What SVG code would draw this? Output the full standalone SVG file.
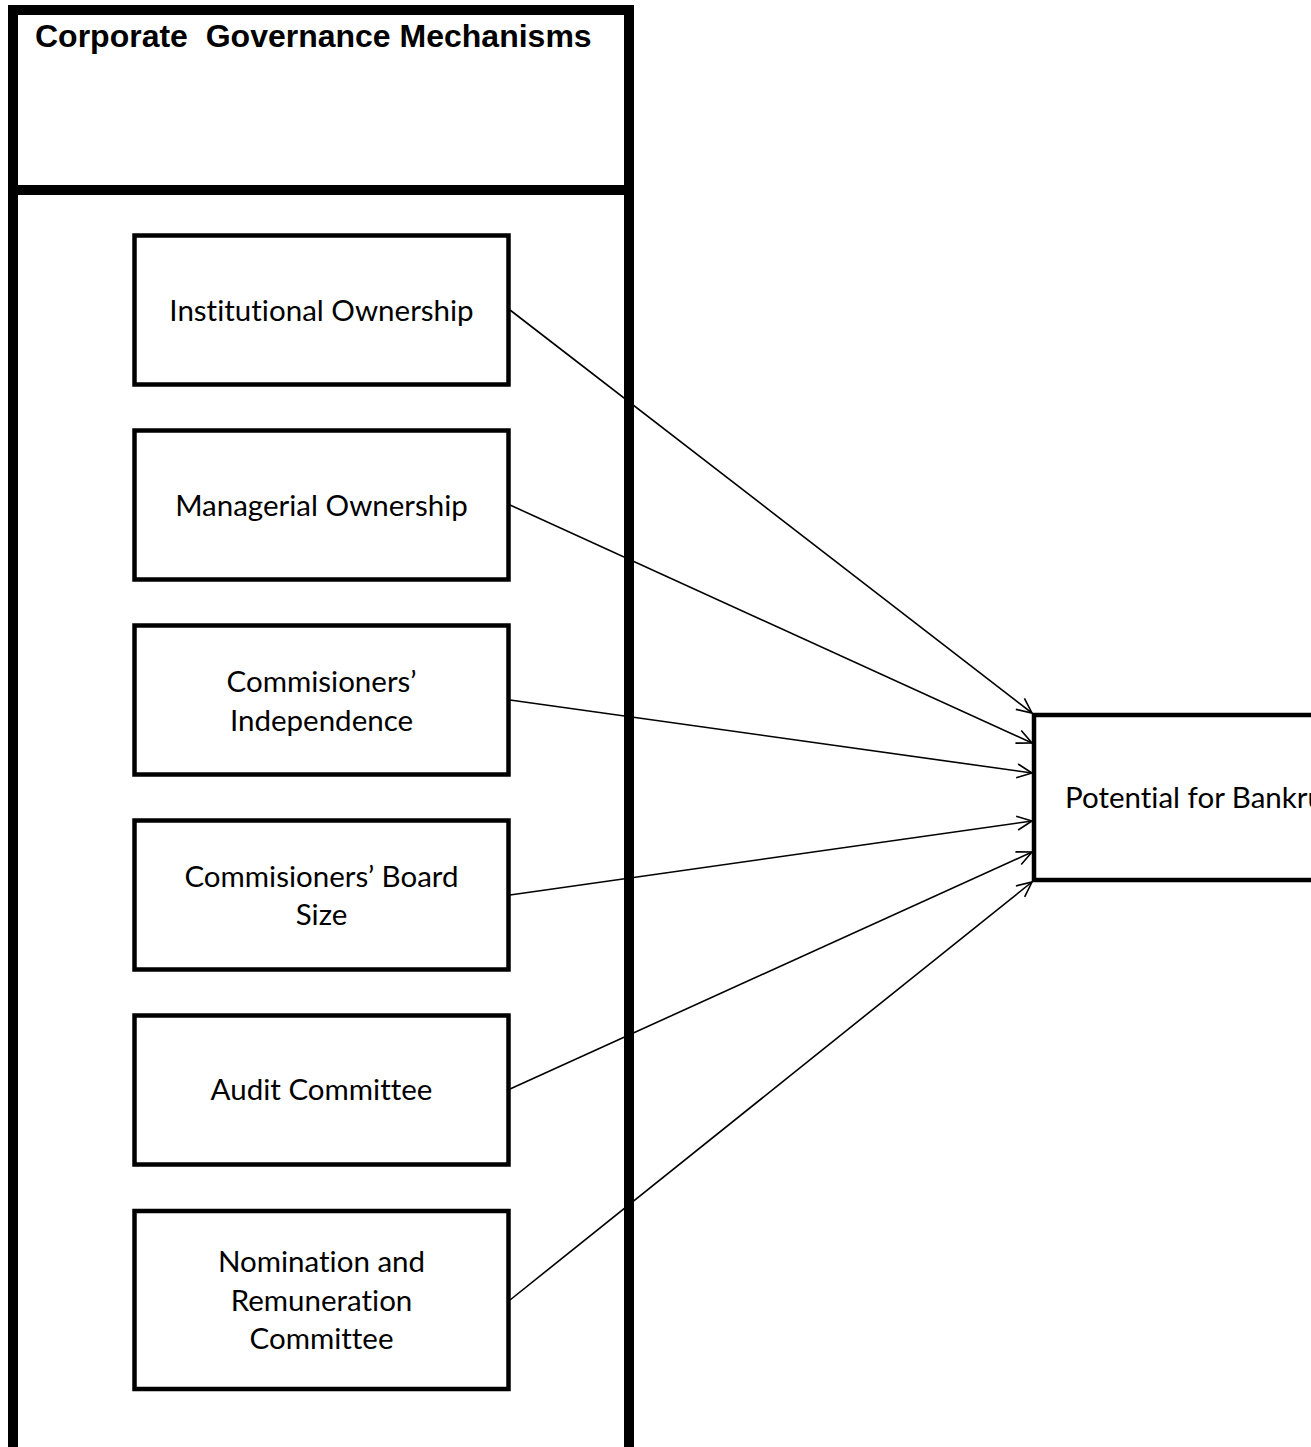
<svg xmlns="http://www.w3.org/2000/svg" width="1311" height="1447" viewBox="0 0 1311 1447">
  <style>
    .frame { fill: none; stroke: #000; stroke-width: 10; }
    .box { fill: #fff; stroke: #000; stroke-width: 4.5; }
    .lbl { font-family: Lato, "Open Sans", "Liberation Sans", sans-serif; font-size: 29.5px; fill: #000; text-anchor: middle; font-variant-ligatures: none; }
    .title { font-family: "Liberation Sans", Arial, sans-serif; font-weight: bold; font-size: 32px; fill: #000; white-space: pre; }
    .conn { fill: none; stroke: #000; stroke-width: 1.6; }
  </style>
  <defs>
    <marker id="arr" markerUnits="userSpaceOnUse" markerWidth="20" markerHeight="20" refX="16" refY="8" orient="auto" viewBox="0 0 20 16">
      <path d="M1,1 L16,8 L1,15" fill="none" stroke="#000" stroke-width="1.6"/>
    </marker>
  </defs>
  <rect width="1311" height="1447" fill="#fff"/>

  <g id="group-frame">
    <rect class="frame" x="13" y="10" width="616" height="180"/>
    <rect class="frame" x="13" y="190" width="616" height="1280"/>
    <text class="title" x="35" y="47">Corporate  Governance Mechanisms</text>
  </g>

  <g id="connectors">
    <line class="conn" x1="510" y1="310" x2="1032" y2="713" marker-end="url(#arr)"/>
    <line class="conn" x1="510" y1="505" x2="1032" y2="743" marker-end="url(#arr)"/>
    <line class="conn" x1="510" y1="700" x2="1032" y2="773" marker-end="url(#arr)"/>
    <line class="conn" x1="510" y1="895" x2="1032" y2="821" marker-end="url(#arr)"/>
    <line class="conn" x1="510" y1="1089" x2="1032" y2="852" marker-end="url(#arr)"/>
    <line class="conn" x1="510" y1="1300" x2="1032" y2="882" marker-end="url(#arr)"/>
  </g>

  <g id="node-institutional">
    <rect class="box" x="134.5" y="235.5" width="374" height="149"/>
    <text class="lbl" x="321.5" y="321">Institutional Ownership</text>
  </g>
  <g id="node-managerial">
    <rect class="box" x="134.5" y="430.5" width="374" height="149"/>
    <text class="lbl" x="321.5" y="516">Managerial Ownership</text>
  </g>
  <g id="node-independence">
    <rect class="box" x="134.5" y="625.5" width="374" height="149"/>
    <text class="lbl" x="321.5" y="692">Commisioners’</text>
    <text class="lbl" x="321.5" y="730.5">Independence</text>
  </g>
  <g id="node-boardsize">
    <rect class="box" x="134.5" y="820.5" width="374" height="149"/>
    <text class="lbl" x="321.5" y="887">Commisioners’ Board</text>
    <text class="lbl" x="321.5" y="925">Size</text>
  </g>
  <g id="node-audit">
    <rect class="box" x="134.5" y="1015.5" width="374" height="149"/>
    <text class="lbl" x="321.5" y="1100">Audit Committee</text>
  </g>
  <g id="node-nomination">
    <rect class="box" x="134.5" y="1211" width="374" height="178"/>
    <text class="lbl" x="321.5" y="1272">Nomination and</text>
    <text class="lbl" x="321.5" y="1310.5">Remuneration</text>
    <text class="lbl" x="321.5" y="1349">Committee</text>
  </g>
  <g id="node-bankruptcy">
    <rect class="box" x="1034" y="715" width="300" height="165"/>
    <text class="lbl" x="1065" y="808" style="text-anchor:start">Potential for Bankru</text>
  </g>
</svg>
